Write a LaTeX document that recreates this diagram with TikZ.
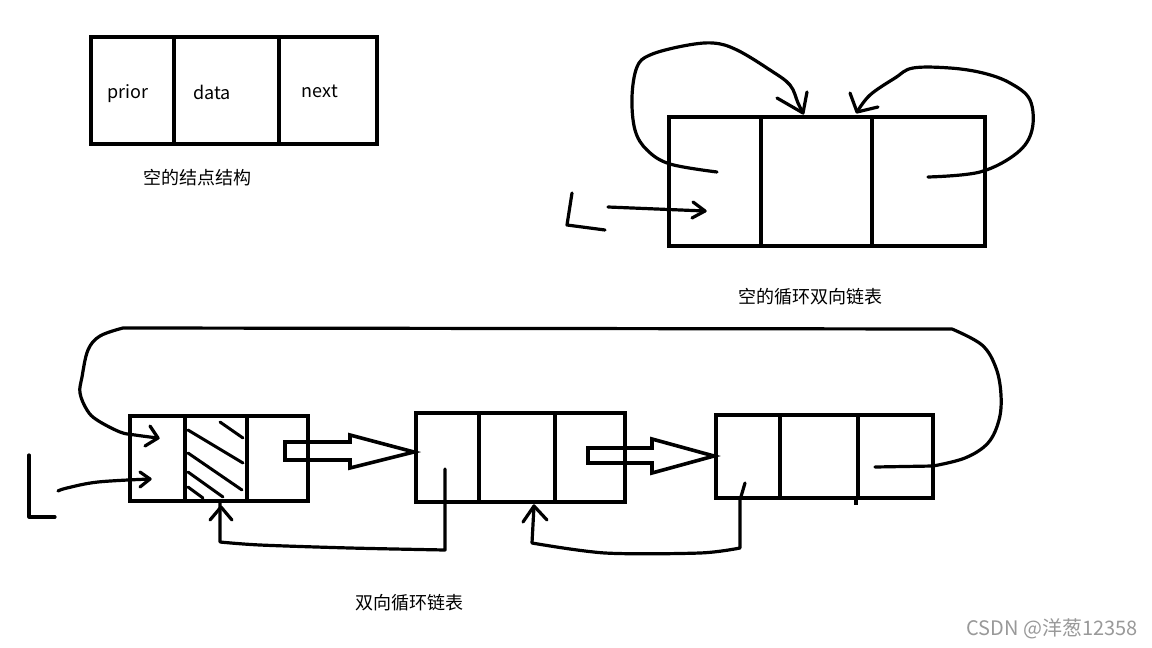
\documentclass[tikz,border=0pt]{standalone}
\usepackage{fontspec}
\setmainfont{Noto Sans CJK SC}
\begin{document}
\begin{tikzpicture}[x=1pt,y=-1pt,
  cell/.style={draw,line width=4pt,inner sep=0pt,minimum height=#1},
  hand/.style={line width=3.2pt,line cap=round,line join=round},
  hollow/.style={line width=3.6pt,line join=miter},
  lbl/.style={inner sep=0pt,font=\fontsize{18}{21}\selectfont},
  wm/.style={inner sep=0pt,text=black!40,font=\fontsize{20}{23}\selectfont}]
\fill[white] (0,0) rectangle (1152,648);
\path[use as bounding box] (0,0) rectangle (1152,648);

% ---- empty node structure ----
\node[cell=107pt,minimum width=83pt,line width=4.4pt] (sp) at (132.5,90.5) {};
\node[cell=107pt,minimum width=105pt,line width=4.4pt] (sd) at (226.5,90.5) {};
\node[cell=107pt,minimum width=98pt,line width=4.4pt] (sn) at (328,90.5) {};
\node[lbl] (tprior) at (128,94) {prior};
\node[lbl] (tdata) at (212,92) {data};
\node[lbl] (tnext) at (320,91) {next};
\node[lbl] (cap1) at (197,178) {空的结点结构};

% ---- empty circular doubly linked list ----
\node[cell=129pt,minimum width=92pt] (ea) at (715,181.5) {};
\node[cell=129pt,minimum width=111pt] (eb) at (816.5,181.5) {};
\node[cell=129pt,minimum width=113pt] (ec) at (928.5,181.5) {};
\node[lbl] (cap2) at (810,297) {空的循环双向链表};

\coordinate (ls) at (717,172);
\coordinate (lt) at (803,113);
\draw[hand] plot[smooth,tension=0.6] coordinates {(ls) (670,164) (647,150) (635,130) (632,97) (637,67) (650,55) (683,46) (713,43) (737,50) (770,70) (790,85) (798,103) (lt)};
\draw[hand] (777,98) -- (lt) -- (807,92);

\coordinate (rs) at (928,177);
\coordinate (rt) at (857,112);
\draw[hand] plot[smooth,tension=0.6] coordinates {(rs) (980,172) (1017,153) (1032,130) (1030,100) (1010,83) (983,73) (950,68) (913,68) (895,78) (870,95) (rt)};
\draw[hand] (850,93) -- (rt) -- (878,107);

\coordinate (L1a) at (572,193);
\coordinate (L1b) at (567,225);
\coordinate (L1c) at (605,230);
\draw[hand] (L1a) -- (L1b) -- (L1c);
\coordinate (a1s) at (608,207);
\coordinate (a1t) at (705,211);
\draw[hand] (a1s) -- (a1t);
\draw[hand] (693,202) -- (a1t) -- (692,218);

% ---- circular doubly linked list ----
\node[cell=85pt,minimum width=55pt] (n1a) at (157.5,458.5) {};
\node[cell=85pt,minimum width=62pt] (n1b) at (216,458.5) {};
\node[cell=85pt,minimum width=61pt] (n1c) at (277.5,458.5) {};
\node[cell=89pt,minimum width=63pt] (n2a) at (447.5,457.5) {};
\node[cell=89pt,minimum width=76pt] (n2b) at (517,457.5) {};
\node[cell=89pt,minimum width=70pt] (n2c) at (590,457.5) {};
\node[cell=83pt,minimum width=64pt] (n3a) at (748,456.5) {};
\node[cell=83pt,minimum width=78pt] (n3b) at (819,456.5) {};
\node[cell=83pt,minimum width=75pt] (n3c) at (895.5,456.5) {};
\draw[line width=3.5pt] (n3c.south west) -- ++(0,5);
\node[lbl] (cap3) at (409,603) {双向循环链表};

% hatching of head node data field
\draw[hand,line width=3pt] (220,422) -- (243,438);
\draw[hand,line width=3pt] (188,430) -- (243,463);
\draw[hand,line width=3pt] (188,453) -- (242,490);
\draw[hand,line width=3pt] (188,472) -- (223,497);
\draw[hand,line width=3pt] (188,487) -- (203,498);

% hollow next arrows
\draw[hollow] (285,442) -- (350,442) -- (350,435) -- (n2a.west |- 0,452) -- (350,468) -- (350,460) -- (285,460) -- cycle;
\draw[hollow] (588,448) -- (652,448) -- (652,439) -- (n3a.west |- 0,456) -- (652,473) -- (652,463) -- (588,463) -- cycle;

% big loop from last node to head
\coordinate (bs) at (875,467);
\coordinate (bt) at (158,438);
\draw[hand] (bs) -- (933,466) -- plot[smooth,tension=0.6] coordinates {(933,466) (965,458) (988,443) (999,420) (1001,395) (996,368) (982,345) (952,329)}
  -- (123,328) -- plot[smooth,tension=0.6] coordinates {(123,328) (100,336) (88,350) (82,377) (80,393) (87,410) (97,420) (120,432) (135,435) (bt)};
\draw[hand] (150,426) -- (bt) -- (145,446);

% L pointer to head
\coordinate (L2a) at (29,455);
\coordinate (L2b) at (29,517);
\coordinate (L2c) at (55,517);
\draw[hand] (L2a) -- (L2b) -- (L2c);
\coordinate (a2s) at (58,491);
\coordinate (a2t) at (150,479);
\draw[hand] plot[smooth,tension=0.6] coordinates {(a2s) (67,488) (98,482) (a2t)};
\draw[hand] (140,472) -- (a2t) -- (140,487);

% prior of node 2 -> head
\coordinate (p2s) at (445,469);
\coordinate (p2t) at (221,507);
\draw[hand] (p2s) -- (445,550) -- plot[smooth,tension=0.5] coordinates {(445,550) (350,548) (260,545) (220,542)} -- (220,502);
\draw[hand] (210,520) -- (p2t) -- (232,520);

% prior of node 3 -> node 2
\coordinate (p3s) at (745,483);
\coordinate (p3t) at (534,506);
\draw[hand] (p3s) -- (740,500) -- (740,548) -- plot[smooth,tension=0.5] coordinates {(740,548) (700,553) (605,553) (532,543)} -- (p3t);
\draw[hand] (523,522) -- (p3t) -- (547,520);

% watermark
\node[wm] (wmk) at (1052,629) {CSDN @洋葱12358};
\end{tikzpicture}
\end{document}
